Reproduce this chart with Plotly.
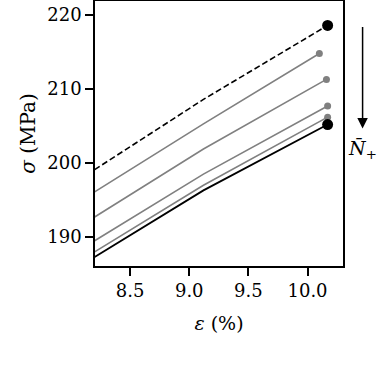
import plotly.graph_objects as go

# strain (%) and stress (MPa)
eps_dashed = [8.2, 9.12, 10.17]
sig_dashed = [199.1, 208.6, 218.6]

eps_gray = [
    [8.2, 9.12, 10.10],
    [8.2, 9.12, 10.16],
    [8.2, 9.12, 10.17],
    [8.2, 9.12, 10.17],
]
sig_gray = [
    [196.1, 205.3, 214.8],
    [192.7, 201.9, 211.3],
    [189.5, 198.5, 207.7],
    [188.0, 197.0, 206.2],
]

eps_black = [8.2, 9.12, 10.17]
sig_black = [187.3, 196.3, 205.2]

xticks = [8.5, 9.0, 9.5, 10.0]
yticks = [190, 200, 210, 220]

FONT = "DejaVu Serif"
GRAY = "#808080"

fig = go.Figure()

for xs, ys in zip(eps_gray, sig_gray):
    fig.add_trace(go.Scatter(x=xs, y=ys, mode="lines",
                             line=dict(color=GRAY, width=1.6)))
    fig.add_trace(go.Scatter(x=xs[-1:], y=ys[-1:], mode="markers",
                             marker=dict(color=GRAY, size=7)))

fig.add_trace(go.Scatter(x=eps_black, y=sig_black, mode="lines",
                         line=dict(color="black", width=1.8)))
fig.add_trace(go.Scatter(x=eps_black[-1:], y=sig_black[-1:], mode="markers",
                         marker=dict(color="black", size=11)))

fig.add_trace(go.Scatter(x=eps_dashed, y=sig_dashed, mode="lines",
                         line=dict(color="black", width=1.6, dash="6px,3px")))
fig.add_trace(go.Scatter(x=eps_dashed[-1:], y=sig_dashed[-1:], mode="markers",
                         marker=dict(color="black", size=11)))

axis_style = dict(showgrid=False, zeroline=False, showline=True, mirror=True,
                  linecolor="black", linewidth=1.5, ticks="outside",
                  ticklen=8, tickwidth=1.5, tickcolor="black", automargin=False,
                  tickfont=dict(family=FONT, size=18, color="black"))

fig.update_xaxes(range=[8.203, 10.30], tickvals=xticks,
                 ticktext=[f"{v:.1f}" for v in xticks],
                 title=dict(text="<i>ε</i> (%)", standoff=16,
                            font=dict(family=FONT, size=19, color="black")),
                 **axis_style)
fig.update_yaxes(range=[186.08, 221.9], tickvals=yticks,
                 title=dict(text="<i>σ</i> (MPa)", standoff=6,
                            font=dict(family=FONT, size=20, color="black")),
                 **axis_style)

# arrow showing increasing N+
fig.add_annotation(xref="paper", yref="paper", x=1.079, y=0.519,
                   xanchor="center", yanchor="middle",
                   ax=0, ay=-103, showarrow=True, arrowhead=2,
                   arrowsize=1.4, arrowwidth=1.5, arrowcolor="black",
                   text="")
fig.add_annotation(xref="paper", yref="paper", x=1.079, y=0.44,
                   xanchor="center", yanchor="middle",
                   text="<i>N̄</i><sub>+</sub>", showarrow=False,
                   font=dict(family=FONT, size=19, color="black"))

fig.update_layout(width=381, height=365, showlegend=False,
                  margin=dict(l=95, r=38, t=1, b=99),
                  plot_bgcolor="white", paper_bgcolor="white",
                  font=dict(family=FONT, color="black"))

# drop the browser's default page margin so the figure sits at the corner
fig.write_html("out.html", config={"displayModeBar": False},
               post_script="document.body.style.margin='0';")
